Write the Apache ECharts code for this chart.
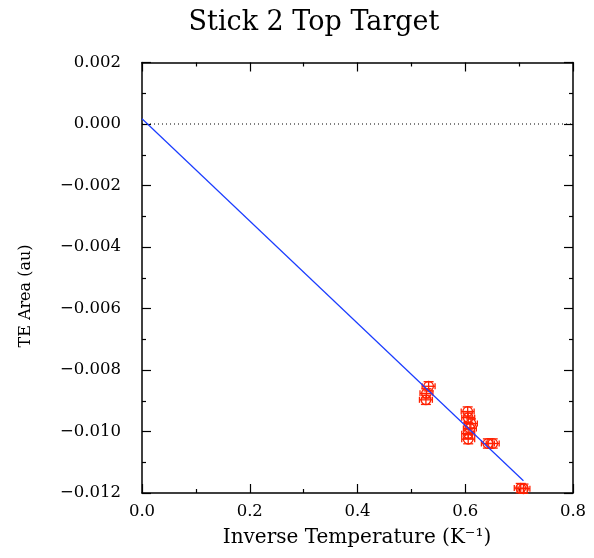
<!DOCTYPE html>
<html>
<head>
<meta charset="utf-8">
<script src="https://cdn.jsdelivr.net/npm/echarts@6/dist/echarts.min.js"></script>
<style>
  html, body { margin: 0; padding: 0; background: #fff; }
  #chart { width: 594px; height: 558px; }
</style>
</head>
<body>
<div id="chart"></div>
<script>
// Measured TE areas against inverse temperature
const invTemp = [0.532, 0.528, 0.527, 0.6045, 0.6055, 0.6105, 0.6086, 0.6055, 0.6055, 0.642, 0.651, 0.703, 0.708];
const teArea  = [-0.00853, -0.00876, -0.00897, -0.00935, -0.00955, -0.00974, -0.00990, -0.01007, -0.01025, -0.01039, -0.01039, -0.01184, -0.01186];
const invTempErr = [0.012, 0.012, 0.012, 0.012, 0.012, 0.012, 0.012, 0.012, 0.012, 0.012, 0.012, 0.012, 0.012];
const teAreaErr  = [0.00015, 0.00015, 0.00015, 0.00015, 0.00015, 0.00015, 0.00015, 0.00015, 0.00015, 0.00015, 0.00015, 0.00015, 0.00015];

// Linear fit endpoints
const fitX = [0, 0.708];
const fitY = [0.00017, -0.01160];

// Axis ranges
const xRange = [0, 0.8];
const yRange = [-0.012, 0.002];
const xStep = 0.2;
const yStep = 0.002;

const FONT = '"DejaVu Serif", serif';
const INK = '#000';
const RED = '#ff2000';

const points = invTemp.map((x, i) => [x, teArea[i], invTempErr[i], teAreaErr[i]]);
const fitLine = fitX.map((x, i) => [x, fitY[i]]);

function fmtY(v) {
  const s = Math.abs(v) < 1e-12 ? '0.000' : v.toFixed(3);
  return s.replace('-', '\u2212');
}

const frameLine = { show: true, onZero: false, lineStyle: { color: INK, width: 1.5 } };
const majorTick = { show: true, inside: true, length: 9, lineStyle: { color: INK, width: 1.2 } };
const minorTick = { show: true, splitNumber: 2, length: 4, lineStyle: { color: INK, width: 1.2 } };

const chart = echarts.init(document.getElementById('chart'), null, { renderer: 'canvas' });
chart.setOption({
  animation: false,
  backgroundColor: '#fff',
  grid: { left: 142, top: 62.5, right: 21, bottom: 65, containLabel: false },
  xAxis: [
    {
      type: 'value', position: 'bottom', min: xRange[0], max: xRange[1], interval: xStep,
      axisLine: frameLine, axisTick: majorTick, minorTick: minorTick,
      splitLine: { show: false }, minorSplitLine: { show: false },
      axisLabel: { color: INK, fontFamily: FONT, fontSize: 16.5, margin: 10,
                   formatter: v => v.toFixed(1) }
    },
    {
      type: 'value', position: 'top', min: xRange[0], max: xRange[1], interval: xStep,
      axisLine: frameLine, axisTick: majorTick, minorTick: minorTick,
      splitLine: { show: false }, axisLabel: { show: false }
    }
  ],
  yAxis: [
    {
      type: 'value', position: 'left', min: yRange[0], max: yRange[1], interval: yStep,
      axisLine: frameLine, axisTick: majorTick, minorTick: minorTick,
      splitLine: { show: false }, minorSplitLine: { show: false },
      axisLabel: { color: INK, fontFamily: FONT, fontSize: 16.5, margin: 21, formatter: fmtY }
    },
    {
      type: 'value', position: 'right', min: yRange[0], max: yRange[1], interval: yStep,
      axisLine: frameLine, axisTick: majorTick, minorTick: minorTick,
      splitLine: { show: false }, axisLabel: { show: false }
    }
  ],
  graphic: [
    { type: 'text', x: 314, y: 23,
      style: { text: 'Stick 2 Top Target', font: '27px ' + FONT, fill: INK,
               align: 'center', verticalAlign: 'middle', textAlign: 'center', textVerticalAlign: 'middle' } },
    { type: 'text', x: 357, y: 538,
      style: { text: 'Inverse Temperature (K\u207B\u00B9)', font: '20px ' + FONT, fill: INK,
               align: 'center', verticalAlign: 'middle', textAlign: 'center', textVerticalAlign: 'middle' } },
    { type: 'text', x: 26, y: 296, rotation: Math.PI / 2,
      style: { text: 'TE Area (au)', font: '16px ' + FONT, fill: INK,
               align: 'center', verticalAlign: 'middle', textAlign: 'center', textVerticalAlign: 'middle' } }
  ],
  series: [
    {
      // zero reference line
      type: 'line', xAxisIndex: 0, yAxisIndex: 0, silent: true,
      data: [[xRange[0], 0], [xRange[1], 0]],
      symbol: 'none', lineStyle: { color: INK, width: 1, type: [1, 3] }
    },
    {
      type: 'line', xAxisIndex: 0, yAxisIndex: 0, silent: true,
      data: fitLine, symbol: 'none',
      lineStyle: { color: '#1a3cff', width: 1.2 }
    },
    {
      type: 'custom', xAxisIndex: 0, yAxisIndex: 0, silent: true,
      data: points,
      renderItem: function (params, api) {
        const x = api.value(0), y = api.value(1), ex = api.value(2), ey = api.value(3);
        const c = api.coord([x, y]);
        const l = api.coord([x - ex, y]);
        const r = api.coord([x + ex, y]);
        const t = api.coord([x, y + ey]);
        const b = api.coord([x, y - ey]);
        const st = { stroke: RED, lineWidth: 1.3, fill: null };
        const cap = 3, hcap = 5;
        return {
          type: 'group',
          children: [
            { type: 'circle', shape: { cx: c[0], cy: c[1], r: 4.8 }, style: st },
            { type: 'line', shape: { x1: l[0], y1: l[1], x2: r[0], y2: r[1] }, style: st },
            { type: 'line', shape: { x1: l[0], y1: l[1] - cap, x2: l[0], y2: l[1] + cap }, style: st },
            { type: 'line', shape: { x1: r[0], y1: r[1] - cap, x2: r[0], y2: r[1] + cap }, style: st },
            { type: 'line', shape: { x1: t[0], y1: t[1], x2: b[0], y2: b[1] }, style: st },
            { type: 'line', shape: { x1: t[0] - hcap, y1: t[1], x2: t[0] + hcap, y2: t[1] }, style: st },
            { type: 'line', shape: { x1: b[0] - hcap, y1: b[1], x2: b[0] + hcap, y2: b[1] }, style: st }
          ]
        };
      }
    }
  ]
});
</script>
</body>
</html>
